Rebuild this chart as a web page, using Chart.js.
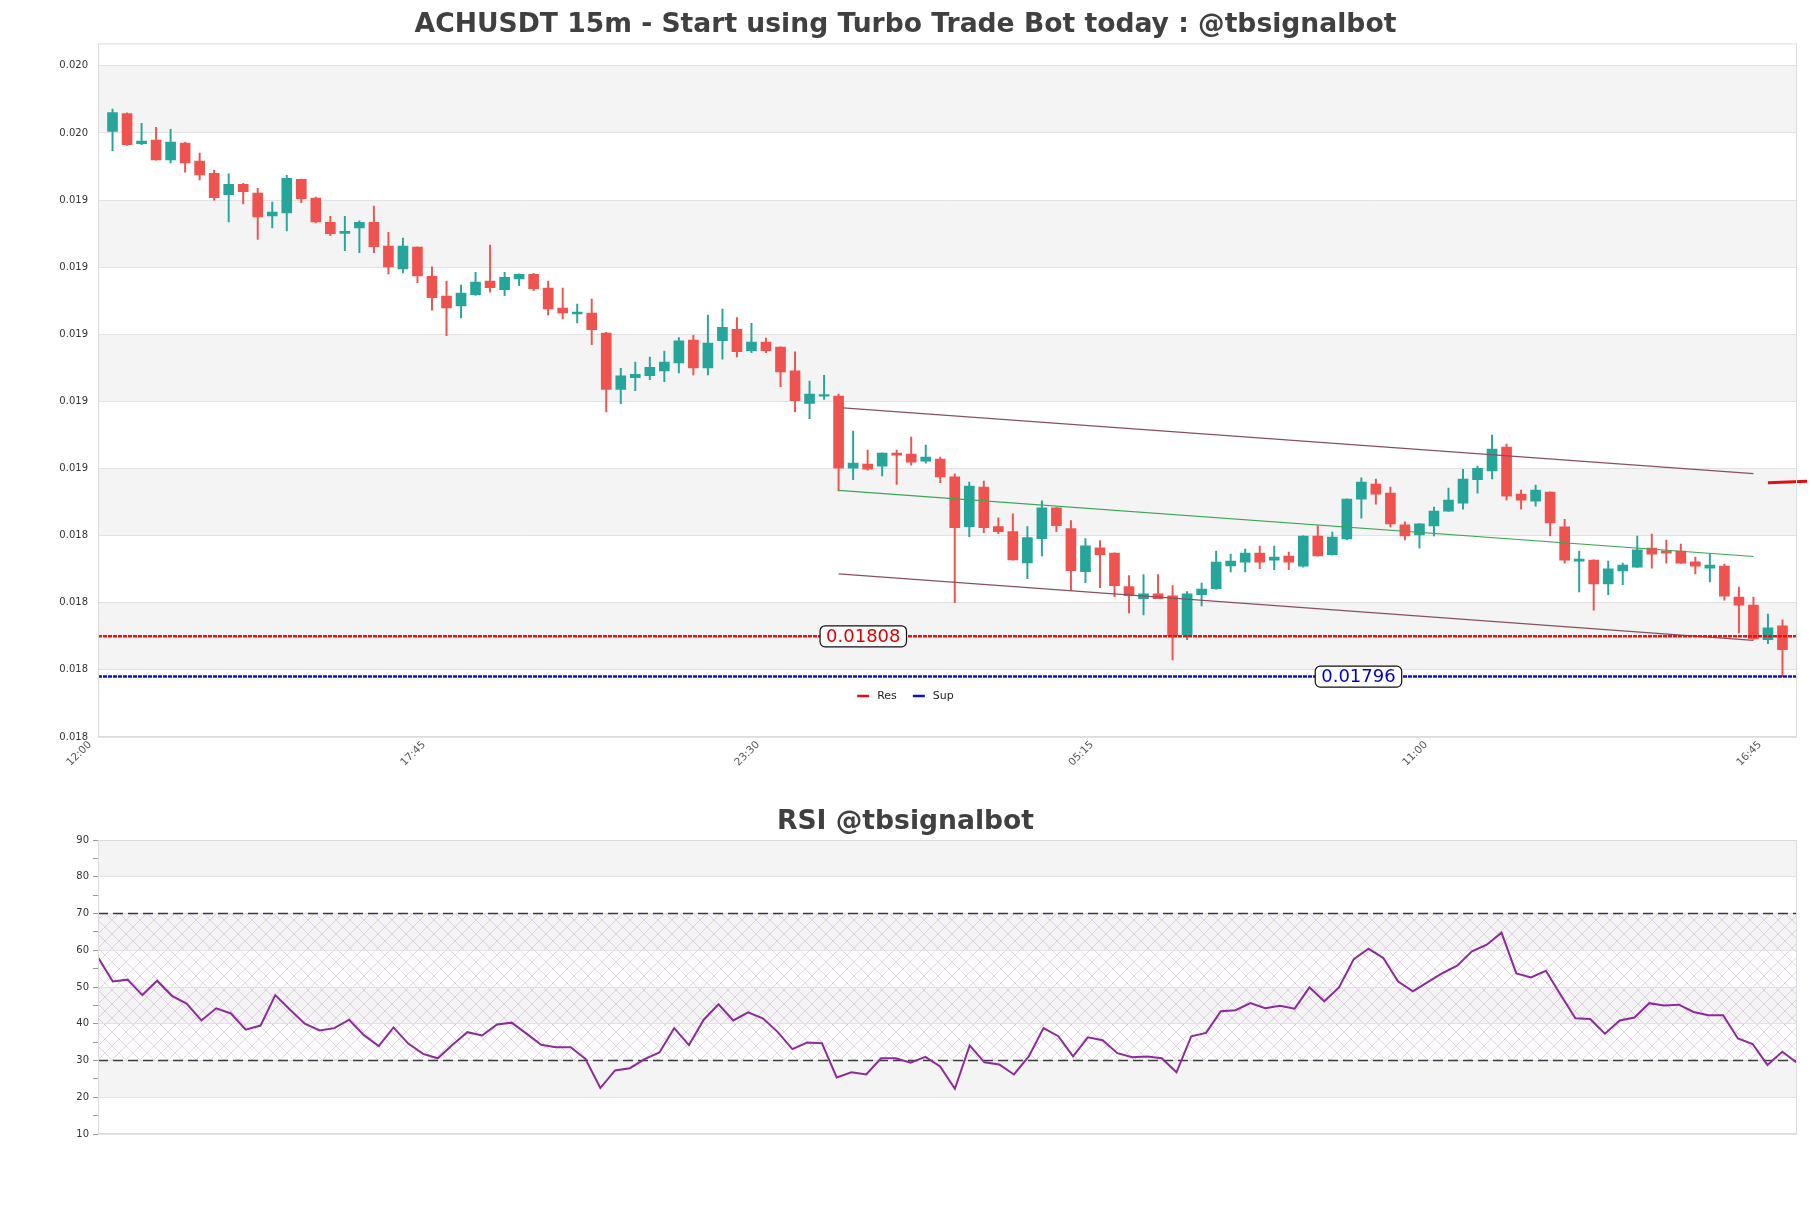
<!DOCTYPE html>
<html>
<head>
<meta charset="utf-8">
<script src="https://cdn.jsdelivr.net/npm/chart.js@4.4.0/dist/chart.umd.min.js"></script>
<style>
html, body { margin: 0; padding: 0; background: #fff; }
#wrap { position: relative; width: 1811px; height: 1208px; }
#priceChart { position: absolute; left: 0; top: 0; }
#rsiChart { position: absolute; left: 0; top: 780px; }
</style>
</head>
<body>
<div id="wrap">
  <canvas id="priceChart" width="1811" height="780"></canvas>
  <canvas id="rsiChart" width="1811" height="428"></canvas>
</div>
<script>
// 15m candles, 12:15 -> 17:00 next day
var opens = [0.019585,0.019638,0.019548,0.019559,0.019500,0.019550,0.019496,0.019460,0.019396,0.019427,
  0.019401,0.019333,0.019342,0.019442,0.019386,0.019314,0.019281,0.019297,0.019314,0.019243,
  0.019175,0.019240,0.019153,0.019094,0.019065,0.019098,0.019139,0.019113,0.019145,0.019159,
  0.019118,0.019058,0.019041,0.019043,0.018984,0.018816,0.018851,0.018857,0.018871,0.018895,
  0.018963,0.018880,0.018961,0.018995,0.018931,0.018957,0.018942,0.018871,0.018774,0.018796,
  0.018796,0.018581,0.018593,0.018587,0.018626,0.018623,0.018602,0.018608,0.018555,0.018407,
  0.018525,0.018407,0.018392,0.018299,0.018371,0.018463,0.018401,0.018273,0.018344,0.018328,
  0.018228,0.018192,0.018207,0.018201,0.018085,0.018204,0.018222,0.018290,0.018301,0.018328,
  0.018307,0.018319,0.018289,0.018379,0.018323,0.018370,0.018489,0.018534,0.018507,0.018412,
  0.018382,0.018409,0.018453,0.018477,0.018547,0.018573,0.018644,0.018504,0.018483,0.018510,
  0.018406,0.018304,0.018307,0.018236,0.018275,0.018286,0.018343,0.018335,0.018334,0.018302,
  0.018283,0.018289,0.018197,0.018173,0.018070,0.018111];
var highs = [0.019651,0.019640,0.019609,0.019597,0.019591,0.019553,0.019520,0.019469,0.019458,0.019430,
  0.019415,0.019374,0.019454,0.019443,0.019389,0.019332,0.019332,0.019318,0.019362,0.019284,
  0.019267,0.019241,0.019181,0.019139,0.019127,0.019165,0.019246,0.019165,0.019160,0.019162,
  0.019139,0.019118,0.019070,0.019085,0.018986,0.018879,0.018897,0.018912,0.018930,0.018970,
  0.018977,0.019037,0.019055,0.019030,0.019013,0.018969,0.018943,0.018928,0.018841,0.018858,
  0.018802,0.018692,0.018635,0.018627,0.018635,0.018674,0.018650,0.018614,0.018564,0.018540,
  0.018543,0.018433,0.018445,0.018407,0.018484,0.018464,0.018425,0.018371,0.018365,0.018329,
  0.018261,0.018264,0.018264,0.018231,0.018213,0.018239,0.018334,0.018325,0.018340,0.018349,
  0.018349,0.018331,0.018380,0.018409,0.018391,0.018490,0.018552,0.018549,0.018525,0.018421,
  0.018416,0.018465,0.018522,0.018578,0.018587,0.018680,0.018653,0.018516,0.018531,0.018511,
  0.018429,0.018334,0.018308,0.018304,0.018298,0.018379,0.018385,0.018367,0.018355,0.018316,
  0.018325,0.018295,0.018227,0.018197,0.018146,0.018129];
var lows = [0.019527,0.019543,0.019545,0.019499,0.019491,0.019463,0.019440,0.019380,0.019315,0.019369,
  0.019263,0.019297,0.019288,0.019372,0.019312,0.019274,0.019229,0.019223,0.019223,0.019160,
  0.019163,0.019134,0.019052,0.018976,0.019029,0.019096,0.019106,0.019095,0.019125,0.019110,
  0.019038,0.019026,0.019014,0.018949,0.018749,0.018773,0.018812,0.018845,0.018839,0.018865,
  0.018859,0.018859,0.018906,0.018913,0.018925,0.018925,0.018824,0.018749,0.018729,0.018786,
  0.018513,0.018547,0.018575,0.018558,0.018533,0.018590,0.018596,0.018538,0.018180,0.018377,
  0.018389,0.018386,0.018307,0.018252,0.018320,0.018392,0.018216,0.018240,0.018225,0.018198,
  0.018150,0.018144,0.018192,0.018010,0.018070,0.018171,0.018220,0.018272,0.018272,0.018282,
  0.018279,0.018279,0.018286,0.018319,0.018322,0.018367,0.018432,0.018474,0.018406,0.018367,
  0.018343,0.018379,0.018452,0.018459,0.018507,0.018549,0.018486,0.018459,0.018468,0.018379,
  0.018298,0.018212,0.018158,0.018204,0.018234,0.018285,0.018283,0.018298,0.018297,0.018266,
  0.018242,0.018188,0.018090,0.018071,0.018058,0.017960];
var closes = [0.019641,0.019545,0.019556,0.019500,0.019553,0.019491,0.019455,0.019387,0.019427,0.019405,
  0.019330,0.019344,0.019445,0.019384,0.019315,0.019280,0.019287,0.019314,0.019241,0.019181,
  0.019243,0.019154,0.019089,0.019059,0.019103,0.019136,0.019119,0.019150,0.019159,0.019116,
  0.019056,0.019044,0.019046,0.018994,0.018816,0.018856,0.018861,0.018882,0.018897,0.018961,
  0.018880,0.018954,0.019001,0.018928,0.018957,0.018931,0.018868,0.018782,0.018802,0.018799,
  0.018581,0.018596,0.018578,0.018626,0.018620,0.018599,0.018614,0.018555,0.018404,0.018528,
  0.018404,0.018392,0.018308,0.018374,0.018463,0.018410,0.018276,0.018350,0.018323,0.018231,
  0.018201,0.018207,0.018192,0.018082,0.018207,0.018221,0.018301,0.018304,0.018328,0.018301,
  0.018316,0.018301,0.018379,0.018320,0.018376,0.018489,0.018540,0.018504,0.018415,0.018379,
  0.018415,0.018453,0.018486,0.018549,0.018581,0.018638,0.018498,0.018486,0.018516,0.018418,
  0.018307,0.018310,0.018236,0.018281,0.018292,0.018338,0.018325,0.018328,0.018298,0.018289,
  0.018292,0.018200,0.018173,0.018072,0.018105,0.018040];

var rsiValues = [58.1,51.5,52.0,47.8,51.7,47.6,45.5,40.9,44.2,42.8,
  38.4,39.5,47.8,43.8,40.0,38.2,38.8,41.1,36.9,33.9,
  39.0,34.6,31.8,30.6,34.3,37.7,36.8,39.8,40.3,37.3,
  34.3,33.6,33.6,30.4,22.5,27.3,27.9,30.4,32.2,38.8,
  34.2,41.1,45.3,40.9,43.1,41.5,37.8,33.1,34.9,34.7,
  25.4,26.8,26.2,30.6,30.6,29.4,31.0,28.4,22.3,34.1,
  29.5,28.9,26.2,31.1,38.8,36.6,31.1,36.3,35.5,32.0,
  30.9,31.1,30.6,26.8,36.6,37.5,43.4,43.7,45.6,44.2,
  44.9,44.1,49.9,46.1,49.9,57.6,60.4,57.9,51.5,48.8,
  51.3,53.8,55.8,59.7,61.5,64.8,53.7,52.6,54.4,47.9,
  41.5,41.3,37.3,40.9,41.7,45.6,45.0,45.2,43.2,42.3,
  42.3,36.0,34.5,28.8,32.4,29.4];

var priceTicks = [0.01778,0.01798,0.01818,0.01838,0.01858,0.01878,0.01898,0.01918,0.01938,0.01958,0.01978];
var xTickPos = [-1, 22, 45, 68, 91, 114];
var xTickText = ['12:00', '17:45', '23:30', '05:15', '11:00', '16:45'];
var rsiTicks = [10,15,20,25,30,35,40,45,50,55,60,65,70,75,80,85,90];

var resLevel = 0.01808;
var supLevel = 0.01796;
// channel lines: [start, end]
var chanX = [50.3, 113];
var upperY = [0.018761, 0.018565];
var midY = [0.018515, 0.018318];
var lowerY = [0.018266, 0.018068];
var projX = [114, 116.7];
var projY = [0.018538, 0.018542];

var UP = '#26a69a', DOWN = '#ef5350';
var FONT = 'DejaVu Sans';

function roundBox(ctx, x, y, w, h, r) {
  ctx.beginPath();
  ctx.moveTo(x + r, y);
  ctx.arcTo(x + w, y, x + w, y + h, r);
  ctx.arcTo(x + w, y + h, x, y + h, r);
  ctx.arcTo(x, y + h, x, y, r);
  ctx.arcTo(x, y, x + w, y, r);
  ctx.closePath();
}

// title centred on the whole canvas (chart.js centres it inside the padding)
var pageTitle = {
  id: 'pageTitle',
  afterDraw: function (chart, args, opts) {
    var ctx = chart.ctx;
    ctx.save();
    ctx.font = 'bold 26.6px ' + FONT;
    ctx.fillStyle = '#404040';
    ctx.textAlign = 'center';
    ctx.textBaseline = 'middle';
    ctx.fillText(opts.text, chart.width / 2, opts.y);
    ctx.restore();
  }
};

var bandPlugin = {
  id: 'bands',
  beforeDraw: function (chart, args, opts) {
    var ctx = chart.ctx, a = chart.chartArea, y = chart.scales.y;
    ctx.save();
    ctx.fillStyle = '#fff';
    ctx.fillRect(0, 0, chart.width, chart.height);
    ctx.fillStyle = '#f4f4f4';
    opts.bands.forEach(function (b) {
      var t = y.getPixelForValue(b[1]), bt = y.getPixelForValue(b[0]);
      ctx.fillRect(a.left, t, a.right - a.left, bt - t);
    });
    if (opts.hatch) {
      var pc = document.createElement('canvas');
      pc.width = 14; pc.height = 14;
      var p = pc.getContext('2d');
      p.strokeStyle = 'rgba(175,120,190,0.30)';
      p.lineWidth = 1;
      p.beginPath();
      p.moveTo(0, 0); p.lineTo(14, 14);
      p.moveTo(14, 0); p.lineTo(0, 14);
      p.stroke();
      ctx.fillStyle = ctx.createPattern(pc, 'repeat');
      var ht = y.getPixelForValue(opts.hatch[1]), hb = y.getPixelForValue(opts.hatch[0]);
      ctx.fillRect(a.left, ht, a.right - a.left, hb - ht);
    }
    ctx.restore();
  },
  afterDraw: function (chart) {
    var ctx = chart.ctx, a = chart.chartArea;
    ctx.save();
    ctx.strokeStyle = '#dcdcdc';
    ctx.lineWidth = 1;
    ctx.strokeRect(a.left + 0.5, a.top + 0.5, a.right - a.left - 1, a.bottom - a.top - 1);
    ctx.restore();
  }
};

var levelLabels = {
  id: 'levelLabels',
  afterDatasetsDraw: function (chart) {
    var ctx = chart.ctx, x = chart.scales.x, y = chart.scales.y, a = chart.chartArea;
    ctx.save();
    ctx.font = '18px ' + FONT;
    ctx.textAlign = 'center';
    ctx.textBaseline = 'middle';
    [[resLevel, 51.7, '#e00000'], [supLevel, 85.8, '#0000cc']].forEach(function (l) {
      var txt = l[0].toFixed(5);
      var cx = x.getPixelForValue(l[1]), cy = y.getPixelForValue(l[0]);
      var w = ctx.measureText(txt).width + 12, h = 21;
      roundBox(ctx, cx - w / 2, cy - h / 2, w, h, 5);
      ctx.fillStyle = '#fff';
      ctx.fill();
      ctx.strokeStyle = '#111';
      ctx.lineWidth = 1.2;
      ctx.stroke();
      ctx.fillStyle = l[2];
      ctx.fillText(txt, cx, cy + 1);
    });
    // legend inside the plot
    var items = [['Res', '#dd1111'], ['Sup', '#1111bb']];
    ctx.font = '11px ' + FONT;
    ctx.textAlign = 'left';
    var total = 0;
    items.forEach(function (it, i) { total += 12 + 8 + ctx.measureText(it[0]).width + (i ? 16 : 0); });
    var lx = chart.width / 2 - total / 2, ly = a.bottom - 41;
    items.forEach(function (it) {
      ctx.strokeStyle = it[1];
      ctx.lineWidth = 2.5;
      ctx.beginPath();
      ctx.moveTo(lx, ly); ctx.lineTo(lx + 12, ly);
      ctx.stroke();
      ctx.fillStyle = '#222';
      ctx.fillText(it[0], lx + 20, ly);
      lx += 20 + ctx.measureText(it[0]).width + 16;
    });
    ctx.restore();
  },
  afterDraw: function (chart) {
    // rotated time labels under the price plot
    var ctx = chart.ctx, x = chart.scales.x, a = chart.chartArea;
    ctx.save();
    ctx.font = '10.5px ' + FONT;
    ctx.fillStyle = '#555';
    ctx.textAlign = 'right';
    ctx.textBaseline = 'middle';
    xTickPos.forEach(function (v, i) {
      ctx.save();
      ctx.translate(x.getPixelForValue(v) - 8, a.bottom + 6);
      ctx.rotate(-Math.PI / 4);
      ctx.fillText(xTickText[i], 0, 0);
      ctx.restore();
    });
    ctx.restore();
  }
};

var bodyData = opens.map(function (o, i) { return { x: i, y: [o, closes[i]] }; });
var wickData = opens.map(function (o, i) { return { x: i, y: [lows[i], highs[i]] }; });
function candleColor(ctx) {
  var i = ctx.dataIndex;
  return closes[i] >= opens[i] ? UP : DOWN;
}
function seg(xs, ys) { return [{ x: xs[0], y: ys[0] }, { x: xs[1], y: ys[1] }]; }

new Chart(document.getElementById('priceChart'), {
  type: 'bar',
  data: {
    datasets: [
      { type: 'bar', data: wickData, backgroundColor: candleColor, barThickness: 1.3, grouped: false, borderWidth: 0, order: 6 },
      { type: 'bar', data: bodyData, backgroundColor: candleColor, barThickness: 10, grouped: false, borderWidth: 0, minBarLength: 1.5, order: 5 },
      { type: 'line', data: seg(chanX, upperY), borderColor: '#87505e', borderWidth: 1.2, pointRadius: 0, order: 4 },
      { type: 'line', data: seg([50, 113], midY), borderColor: '#3aa655', borderWidth: 1.1, pointRadius: 0, order: 4 },
      { type: 'line', data: seg([50, 113], lowerY), borderColor: '#87505e', borderWidth: 1.2, pointRadius: 0, order: 4 },
      { type: 'line', label: 'Res', data: seg([-1, 116], [resLevel, resLevel]), borderColor: '#ee1111', borderWidth: 2.5, borderDash: [4, 1], pointRadius: 0, order: 3 },
      { type: 'line', label: 'Sup', data: seg([-1, 116], [supLevel, supLevel]), borderColor: '#1111cc', borderWidth: 2.5, borderDash: [4, 1], pointRadius: 0, order: 3 },
      { type: 'line', data: seg(projX, projY), borderColor: '#e01010', borderWidth: 3, pointRadius: 0, clip: false, order: 2 }
    ]
  },
  options: {
    responsive: false,
    animation: false,
    events: [],
    layout: { padding: { top: 43.4, right: 14 } },
    plugins: {
      legend: { display: false },
      tooltip: { enabled: false },
      title: { display: false },
      pageTitle: { text: 'ACHUSDT 15m - Start using Turbo Trade Bot today : @tbsignalbot', y: 25 },
      bands: { bands: [[priceTicks[1], priceTicks[2]], [priceTicks[3], priceTicks[4]], [priceTicks[5], priceTicks[6]], [priceTicks[7], priceTicks[8]], [priceTicks[9], priceTicks[10]]] }
    },
    scales: {
      x: {
        type: 'linear',
        min: -1,
        max: 116,
        offset: false,
        grid: { display: false },
        border: { display: false },
        afterBuildTicks: function (s) { s.ticks = xTickPos.map(function (v) { return { value: v }; }); },
        afterFit: function (s) { s.height = 43; },
        ticks: { display: false }
      },
      y: {
        min: 0.01778,
        max: 0.019847,
        grid: { color: '#e2e2e2', drawTicks: false },
        border: { display: false },
        afterBuildTicks: function (s) { s.ticks = priceTicks.map(function (v) { return { value: v }; }); },
        afterFit: function (s) { s.width = 98; },
        ticks: {
          padding: 10,
          color: '#333',
          font: { family: FONT, size: 10 },
          callback: function (v) { return v.toFixed(3); }
        }
      }
    }
  },
  plugins: [bandPlugin, levelLabels, pageTitle]
});

new Chart(document.getElementById('rsiChart'), {
  type: 'line',
  data: {
    datasets: [
      { data: rsiValues.map(function (v, i) { return { x: i, y: v }; }), borderColor: '#8b2c98', borderWidth: 2, pointRadius: 0, tension: 0, order: 1 },
      { data: seg([0, 115], [70, 70]), borderColor: '#3a3a3a', borderWidth: 1.4, borderDash: [10, 5], pointRadius: 0, order: 2 },
      { data: seg([0, 115], [30, 30]), borderColor: '#3a3a3a', borderWidth: 1.4, borderDash: [10, 5], pointRadius: 0, order: 2 }
    ]
  },
  options: {
    responsive: false,
    animation: false,
    events: [],
    layout: { padding: { top: 60, right: 14, bottom: 74 } },
    plugins: {
      legend: { display: false },
      tooltip: { enabled: false },
      title: { display: false },
      pageTitle: { text: 'RSI @tbsignalbot', y: 42 },
      bands: { bands: [[80, 90], [60, 70], [40, 50], [20, 30]], hatch: [30, 70] }
    },
    scales: {
      x: { type: 'linear', min: 0, max: 115, display: false },
      y: {
        min: 10,
        max: 90,
        border: { display: false },
        grid: {
          color: function (c) { return c.tick && c.tick.value % 10 === 0 ? '#e2e2e2' : 'rgba(0,0,0,0)'; },
          tickColor: '#999',
          tickLength: 5
        },
        afterBuildTicks: function (s) { s.ticks = rsiTicks.map(function (v) { return { value: v }; }); },
        afterFit: function (s) { s.width = 98; },
        ticks: {
          padding: 4,
          color: '#333',
          font: { family: FONT, size: 10 },
          callback: function (v) { return v % 10 === 0 ? v : ''; }
        }
      }
    }
  },
  plugins: [bandPlugin, pageTitle]
});
</script>
</body>
</html>
